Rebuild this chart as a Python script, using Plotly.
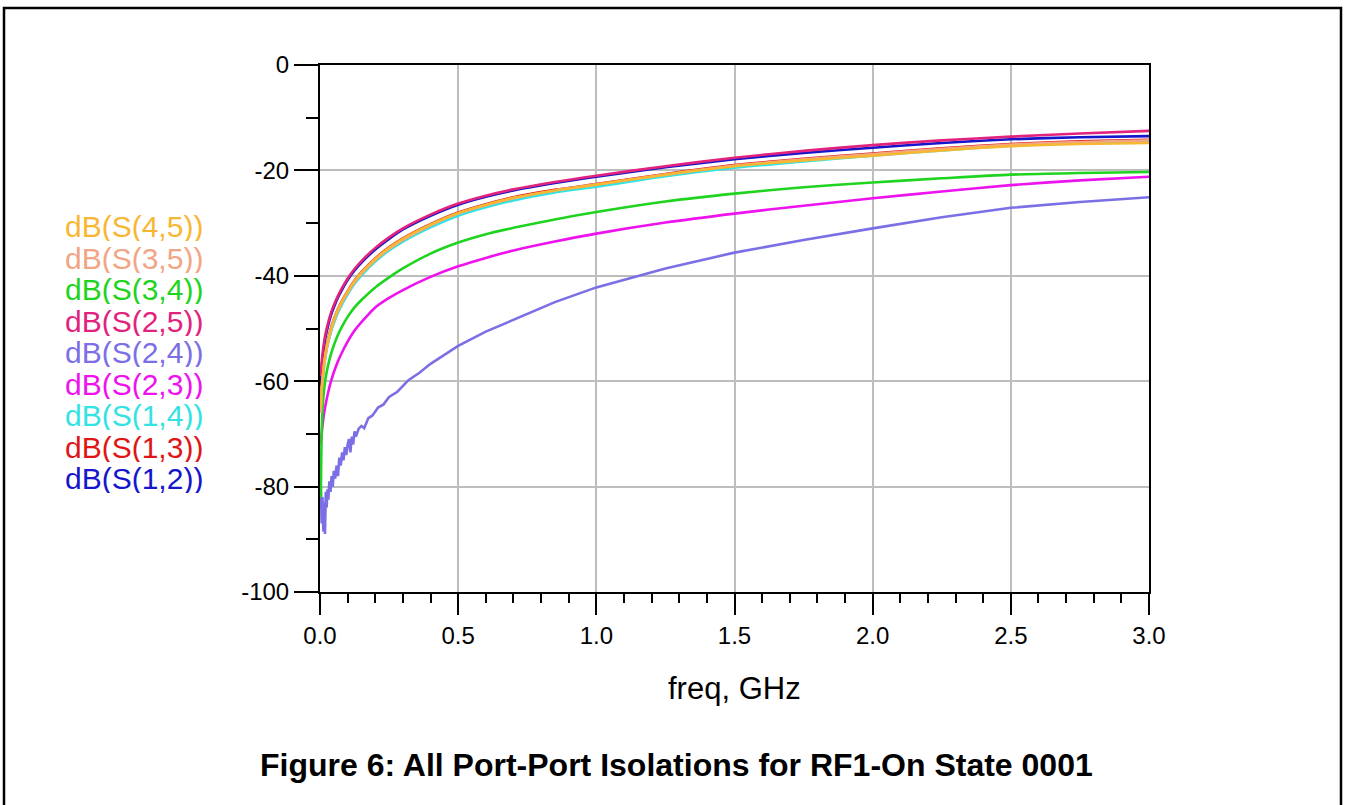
import plotly.graph_objects as go

# ---------------- data ----------------
freq = [0.003, 0.006, 0.01, 0.015, 0.02, 0.03, 0.04, 0.05, 0.065, 0.08, 0.1, 0.125,
        0.15, 0.2, 0.25, 0.3, 0.4, 0.5, 0.6, 0.7, 0.85, 1.0, 1.25, 1.5, 1.75, 2.0,
        2.25, 2.5, 2.75, 3.0]

s12 = [-61, -57.5, -55.3, -53.2, -51.6, -49.3, -47.4, -46.0, -44.1, -42.6, -40.8, -39.0,
       -37.5, -35.0, -33.0, -31.2, -28.6, -26.5, -25.0, -23.8, -22.4, -21.2, -19.4, -17.9,
       -16.7, -15.7, -14.8, -14.1, -13.7, -13.5]
s13 = [-64, -61, -58.7, -56.3, -54.5, -51.9, -49.9, -48.3, -46.3, -44.7, -42.9, -40.9,
       -39.3, -36.7, -34.6, -32.9, -30.2, -28.0, -26.4, -25.1, -23.7, -22.6, -20.7, -19.0,
       -17.8, -16.8, -15.8, -15.0, -14.5, -14.2]
s14 = [-66, -62.5, -59.8, -57.2, -55.3, -52.6, -50.6, -49.0, -47.0, -45.4, -43.5, -41.5,
       -39.9, -37.3, -35.2, -33.5, -30.8, -28.6, -27.0, -25.7, -24.2, -23.1, -21.1, -19.5,
       -18.3, -17.2, -16.2, -15.3, -14.8, -14.5]
s23 = [-72, -70, -68, -66, -64.5, -62, -60, -58.3, -56.2, -54.5, -52.5, -50.4,
       -48.8, -46.0, -44.2, -42.7, -40.2, -38.2, -36.6, -35.2, -33.5, -32.0, -29.9, -28.2,
       -26.7, -25.3, -24.0, -22.8, -21.9, -21.2]
s25 = [-59, -56.5, -54.5, -52.5, -51.0, -48.8, -47.0, -45.6, -43.8, -42.3, -40.5, -38.7,
       -37.2, -34.7, -32.7, -31.0, -28.4, -26.3, -24.8, -23.6, -22.2, -21.0, -19.2, -17.6,
       -16.3, -15.2, -14.3, -13.6, -13.0, -12.5]
s34 = [-82, -70, -64.5, -61.5, -59.5, -56.8, -54.8, -53.2, -51.2, -49.6, -47.8, -46.0,
       -44.6, -42.2, -40.3, -38.6, -35.8, -33.7, -32.1, -30.9, -29.3, -27.9, -25.9, -24.4,
       -23.2, -22.3, -21.5, -20.8, -20.5, -20.3]
s35 = [-66, -62, -59.4, -56.9, -55.0, -52.3, -50.3, -48.6, -46.6, -45.0, -43.2, -41.2,
       -39.6, -37.0, -34.9, -33.2, -30.4, -28.2, -26.6, -25.3, -23.8, -22.7, -20.8, -19.1,
       -17.9, -16.9, -15.9, -15.1, -14.6, -14.3]
s45 = [-65, -61.5, -59, -56.5, -54.7, -52.0, -50.0, -48.4, -46.4, -44.8, -43.0, -41.0,
       -39.4, -36.8, -34.7, -33.0, -30.3, -28.1, -26.5, -25.2, -23.8, -22.7, -20.8, -19.2,
       -18.1, -17.2, -16.2, -15.4, -15.0, -14.8]

freq24 = [0.003, 0.006, 0.009, 0.012, 0.015, 0.018, 0.021, 0.024, 0.027, 0.030, 0.034,
          0.038, 0.042, 0.046, 0.050, 0.055, 0.060, 0.065, 0.070, 0.075, 0.080, 0.085,
          0.090, 0.095, 0.100, 0.105, 0.110, 0.115, 0.120, 0.125, 0.130, 0.140, 0.150,
          0.160, 0.175, 0.19, 0.21, 0.23, 0.25, 0.28, 0.32, 0.36, 0.40, 0.45, 0.5, 0.6,
          0.7, 0.85, 1.0, 1.25, 1.5, 1.75, 2.0, 2.25, 2.5, 2.75, 3.0]
s24 = [-80, -87, -82, -88.5, -83, -89, -81, -84, -80.5, -82.5, -79, -81, -78, -80, -77,
       -78.5, -76, -78, -74.5, -76, -73.5, -75, -72.5, -74, -72, -71, -73.5, -70.5, -72,
       -69.5, -70.5, -69, -68.5, -68.9, -67, -66.5, -65, -64.4, -63, -62, -59.8, -58.4,
       -56.7, -55, -53.3, -50.6, -48.3, -45, -42.2, -38.6, -35.6, -33.2, -31.0, -28.9,
       -27.1, -26.0, -25.1]

legend_names = ["dB(S(4,5))", "dB(S(3,5))", "dB(S(3,4))", "dB(S(2,5))", "dB(S(2,4))",
                "dB(S(2,3))", "dB(S(1,4))", "dB(S(1,3))", "dB(S(1,2))"]

x_ticks = [0.0, 0.5, 1.0, 1.5, 2.0, 2.5, 3.0]
y_ticks = [0, -20, -40, -60, -80, -100]

title_text = "Figure 6: All Port-Port Isolations for RF1-On State 0001"
x_title = "freq, GHz"

# ---------------- styling ----------------
colors = {
    "dB(S(4,5))": "#F7B733",
    "dB(S(3,5))": "#F2A584",
    "dB(S(3,4))": "#1ED41E",
    "dB(S(2,5))": "#E2237E",
    "dB(S(2,4))": "#7B6FE6",
    "dB(S(2,3))": "#EE12EE",
    "dB(S(1,4))": "#33E3E3",
    "dB(S(1,3))": "#E01515",
    "dB(S(1,2))": "#1515CC",
}

series = [
    ("dB(S(1,2))", freq, s12, "spline"),
    ("dB(S(1,3))", freq, s13, "spline"),
    ("dB(S(1,4))", freq, s14, "spline"),
    ("dB(S(2,3))", freq, s23, "spline"),
    ("dB(S(2,4))", freq24, s24, "linear"),
    ("dB(S(2,5))", freq, s25, "spline"),
    ("dB(S(3,4))", freq, s34, "spline"),
    ("dB(S(3,5))", freq, s35, "spline"),
    ("dB(S(4,5))", freq, s45, "spline"),
]

W, H = 1347, 805
L, R, T, B = 320, 1149, 65, 592  # plot-area pixel box
pw, ph = R - L, B - T


def px_x(px):
    return (px - L) / pw


def px_y(py):
    return (B - py) / ph


fig = go.Figure()
for name, xs, ys, shape in series:
    fig.add_trace(go.Scatter(
        x=xs, y=ys, mode="lines", name=name,
        line=dict(color=colors[name], width=2.6, shape=shape, smoothing=0.8),
        showlegend=False, hoverinfo="skip"))

font_family = "Liberation Sans, Arial, sans-serif"

fig.update_xaxes(
    range=[0, 3], tickvals=x_ticks, ticktext=[f"{v:.1f}" for v in x_ticks],
    showgrid=True, gridcolor="#BDBDBD", gridwidth=1.5,
    showline=True, linecolor="black", linewidth=2, mirror=True,
    ticks="outside", ticklen=21, tickwidth=1.5, tickcolor="black",
    minor=dict(dtick=0.1, ticks="outside", ticklen=9, tickwidth=1.5,
               tickcolor="black", showgrid=False),
    tickfont=dict(family=font_family, size=24, color="black"),
    zeroline=False,
)
fig.update_yaxes(
    range=[-100, 0], tickvals=y_ticks, ticktext=[str(v) for v in y_ticks],
    showgrid=True, gridcolor="#BDBDBD", gridwidth=1.5,
    showline=True, linecolor="black", linewidth=2, mirror=True,
    ticks="outside", ticklen=24, tickwidth=1.5, tickcolor="black",
    minor=dict(dtick=10, ticks="outside", ticklen=12, tickwidth=1.5,
               tickcolor="black", showgrid=False),
    tickfont=dict(family=font_family, size=24, color="black"),
    zeroline=False,
)

annotations = []
for i, name in enumerate(legend_names):
    annotations.append(dict(
        x=px_x(64), y=px_y(226 + 31.5 * i), xref="paper", yref="paper",
        xanchor="left", yanchor="middle", showarrow=False, text=name,
        height=30, valign="middle", borderpad=0,
        font=dict(family=font_family, size=30, color=colors[name])))

annotations.append(dict(
    x=px_x(734), y=px_y(688), xref="paper", yref="paper", xanchor="center",
    yanchor="middle", showarrow=False, text=x_title,
    font=dict(family=font_family, size=31, color="black")))
annotations.append(dict(
    x=px_x(676), y=px_y(765), xref="paper", yref="paper", xanchor="center",
    yanchor="middle", showarrow=False, text="<b>" + title_text + "</b>",
    font=dict(family=font_family, size=32, color="black")))

fig.update_layout(
    width=W, height=H,
    margin=dict(l=L, r=W - R, t=T, b=H - B, pad=0),
    paper_bgcolor="white", plot_bgcolor="white",
    annotations=annotations,
    shapes=[dict(type="rect", xref="paper", yref="paper",
                 x0=px_x(4), x1=px_x(1341), y0=px_y(815), y1=px_y(8),
                 line=dict(color="black", width=2.5), layer="above")],
)

fig.write_html("out.html", config={"displayModeBar": False},
               post_script="document.body.style.margin='0px';document.body.style.overflow='hidden';")
